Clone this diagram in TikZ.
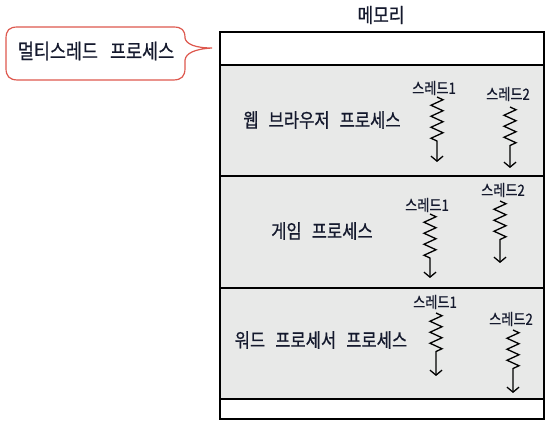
\documentclass[tikz,border=0pt]{standalone}
\usepackage{fontspec}
\newfontfamily\kr[FakeStretch=0.85,FakeBold=0.7]{Noto Sans CJK KR}
\usetikzlibrary{arrows.meta,decorations.pathmorphing}
\definecolor{band}{RGB}{232,233,232}
\definecolor{callred}{RGB}{222,88,78}
\definecolor{ink}{RGB}{20,25,45}
\newcommand\wgap{\hspace{10pt}}
\tikzset{
  membox/.style={draw=black, line width=1.4pt},
  bandbox/.style={draw=black, line width=1.4pt, fill=band},
  proc/.style={font=\kr\fontsize{19.5}{21}\selectfont, text=ink},
  thr/.style={font=\kr\fontsize{15.5}{17}\selectfont, text=ink, inner sep=1pt},
  thread/.style={line width=1.3pt, -{Straight Barb[length=5pt,width=12pt,line width=1.3pt]},
    decorate, decoration={zigzag, segment length=11pt, amplitude=6pt, pre length=0pt, post length=20pt}},
}
\begin{document}
\begin{tikzpicture}[x=1pt,y=-1pt]
\useasboundingbox (0,0) rectangle (550,425);
% memory
\node[font=\kr\fontsize{20}{22}\selectfont, text=ink] (mem) at (381,15) {메모리};
\draw[membox] (220,32) rectangle (544,419);
\draw[bandbox] (220,65) rectangle (544,176);
\draw[bandbox] (220,176) rectangle (544,288);
\draw[bandbox] (220,288) rectangle (544,399);
% callout
\draw[callred, line width=1.2pt, fill=white]
  (18,27) -- (173,27) .. controls (182,27) and (185,30) .. (185,38)
  .. controls (186,44) and (195,48) .. (212,48)
  .. controls (195,49) and (186,53) .. (185,60) -- (185,68)
  .. controls (185,76) and (182,80) .. (173,80) -- (18,80)
  .. controls (9,80) and (6,76) .. (6,68) -- (6,39)
  .. controls (6,30) and (9,27) .. (18,27) -- cycle;
\node[font=\kr\fontsize{20.5}{22}\selectfont, text=ink] (call) at (96,51) {멀티스레드\hspace{12pt}프로세스};
% processes
\node[proc] (p1) at (322,120) {웹\wgap 브라우저\wgap 프로세스};
\node[proc] (p2) at (322,231) {게임\wgap 프로세스};
\node[proc] (p3) at (321,340) {워드\wgap 프로세서\wgap 프로세스};
% threads band 1
\node[thr] (t11) at (434,88) {스레드1};
\coordinate (e11) at (437,162);
\draw[thread] (437,97) -- (e11);
\node[thr] (t12) at (508,94) {스레드2};
\coordinate (e12) at (510,168);
\draw[thread] (510,107) -- (e12);
% threads band 2
\node[thr] (t21) at (427,205) {스레드1};
\coordinate (e21) at (430,278);
\draw[thread] (430,214) -- (e21);
\node[thr] (t22) at (503,190) {스레드2};
\coordinate (e22) at (500,263);
\draw[thread] (500,201) -- (e22);
% threads band 3
\node[thr] (t31) at (435,302) {스레드1};
\coordinate (e31) at (436,376);
\draw[thread] (436,313) -- (e31);
\node[thr] (t32) at (511,319) {스레드2};
\coordinate (e32) at (513,393);
\draw[thread] (513,330) -- (e32);
\end{tikzpicture}
\end{document}
